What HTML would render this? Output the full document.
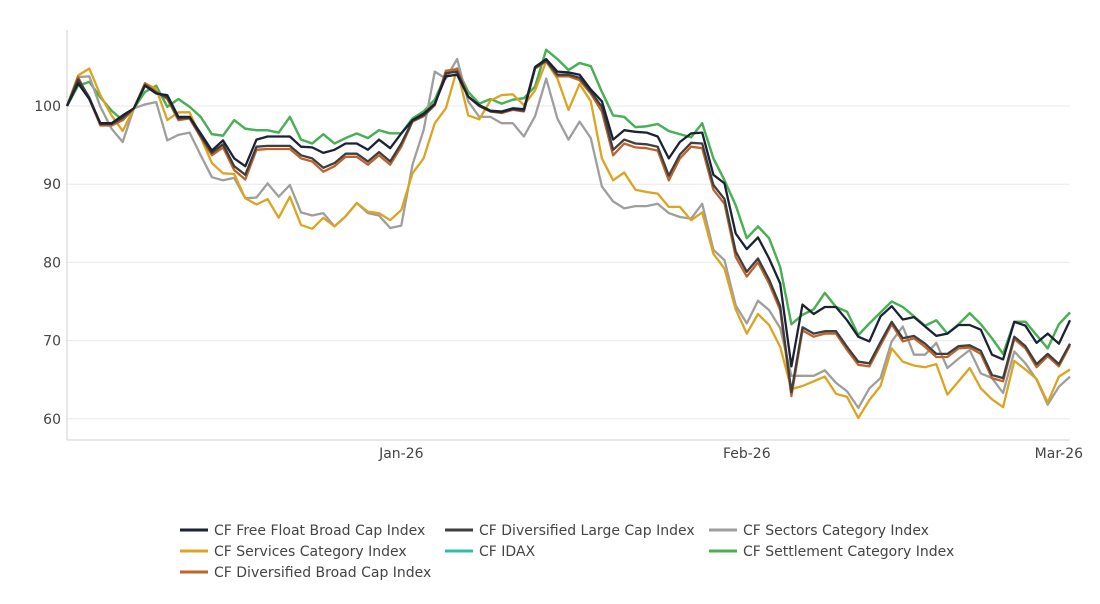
<!DOCTYPE html>
<html><head><meta charset="utf-8"><style>
body{margin:0;background:#fff;font-family:"DejaVu Sans",sans-serif;}
svg text{font-family:"DejaVu Sans",sans-serif;fill:#444;}
</style></head><body>
<svg id="chart" width="1100" height="600" xmlns="http://www.w3.org/2000/svg"></svg>
<script>
const xTickLabels = ["Jan-26","Feb-26","Mar-26"];
const xTickIdx = [30, 61, 89];
const yTicks = [60,70,80,90,100];
const seriesNames = ["CF Free Float Broad Cap Index","CF Diversified Large Cap Index","CF Sectors Category Index","CF Services Category Index","CF IDAX","CF Settlement Category Index","CF Diversified Broad Cap Index"];
const seriesColors = ["#1b2233","#3f3f3f","#9e9e9e","#dba421","#2cbfa8","#4caf50","#c0622a"];
const freeFloat = [100,102.9,100.9,97.8,97.8,98.8,99.7,102.6,101.6,101.4,98.6,98.6,96.5,94.3,95.6,93.3,92.3,95.7,96.1,96.1,96.1,94.8,94.7,94,94.4,95.2,95.2,94.4,95.7,94.6,96.5,98.2,99,100.3,103.8,104,101.2,100.1,99.4,99.3,99.7,99.6,105,106,104.4,104.3,104,102.1,100.6,95.7,96.9,96.7,96.6,96.1,93.3,95.4,96.5,96.6,91.2,90.1,83.7,81.7,83.2,80.5,77.3,66.7,74.6,73.4,74.3,74.3,72.6,70.5,69.9,73.1,74.4,72.7,73,71.8,70.6,70.9,72,72,71.4,68.2,67.6,72.4,71.9,69.7,70.9,69.6,72.6];
const divBroad = [100,103.7,100.9,97.5,97.5,98.2,99.7,102.9,101.8,100.9,98.2,98.4,96,93.7,94.7,91.8,90.6,94.4,94.5,94.5,94.5,93.3,92.9,91.6,92.3,93.5,93.5,92.5,93.7,92.5,94.8,98,98.7,100.1,104.5,104.7,101.2,100,99.3,99.1,99.5,99.3,104.8,105.7,103.8,103.8,103.3,101.6,99.3,93.7,95.2,94.7,94.6,94.3,90.5,93.3,94.8,94.6,89.3,87.5,80.7,78.2,80,77.3,73.9,62.9,71.3,70.5,70.9,70.9,68.8,66.9,66.7,69.4,72.1,69.9,70.3,69.2,67.9,67.9,69,69.1,68.3,65.2,64.8,70.2,69,66.6,68,66.7,69.4];
const divLarge = [100,103.4,101.1,97.7,97.7,98.5,99.7,102.7,101.7,101.1,98.4,98.5,96.2,94,95.1,92.3,91.2,94.8,94.9,94.9,94.9,93.7,93.3,92.1,92.7,93.9,93.9,92.9,94.1,92.9,95.2,98.1,98.8,100.2,104.2,104.4,101.2,100,99.3,99.2,99.6,99.4,104.9,105.8,104,104,103.6,101.8,99.9,94.4,95.7,95.2,95.1,94.8,91.1,93.8,95.3,95.2,89.9,88.1,81.4,78.8,80.5,77.8,74.4,63.4,71.7,70.9,71.2,71.2,69.2,67.3,67.1,69.8,72.4,70.3,70.6,69.6,68.3,68.3,69.3,69.4,68.7,65.6,65.2,70.5,69.3,67,68.3,67,69.6];
const sectors = [100,103.7,103.8,99.9,97.1,95.4,99.7,100.2,100.5,95.6,96.3,96.6,93.7,90.9,90.5,90.8,88.2,88.3,90.1,88.4,89.9,86.4,86,86.3,84.6,85.9,87.6,86.3,86,84.4,84.7,92.5,96.9,104.4,103.5,106,100.6,98.6,98.6,97.8,97.8,96.1,98.7,103.5,98.4,95.7,98,95.9,89.7,87.8,86.9,87.2,87.2,87.5,86.3,85.8,85.6,87.5,81.6,80.3,74.5,72.2,75.1,73.9,71.6,65.5,65.5,65.5,66.2,64.6,63.5,61.4,63.9,65.2,69.9,71.8,68.2,68.2,69.7,66.5,67.7,68.8,65.8,65.2,63.3,68.6,67.1,65,61.8,64.1,65.4];
const services = [100,103.9,104.8,101.4,98.8,96.8,99.7,102.9,102.2,98.2,99.2,99.2,96,92.7,91.4,91.3,88.2,87.4,88.1,85.7,88.4,84.8,84.3,85.7,84.6,85.9,87.6,86.5,86.3,85.4,86.7,91.4,93.3,97.8,99.7,104.7,98.8,98.3,100.7,101.4,101.5,100.1,102,105.7,103.5,99.5,102.8,100.6,93.3,90.5,91.5,89.3,89,88.8,87.1,87.1,85.4,86.4,81.1,79.2,74,70.9,73.4,72,69.2,63.8,64.2,64.8,65.4,63.2,62.8,60.1,62.4,64.2,69,67.3,66.8,66.6,67,63.1,64.8,66.5,63.9,62.5,61.5,67.4,66.3,65.1,62.1,65.4,66.3];
const settlement = [100,102.6,103.1,101.1,99.4,98.2,99.7,101.8,102.6,99.9,100.9,99.9,98.6,96.4,96.2,98.2,97.1,96.9,96.9,96.6,98.6,95.7,95.2,96.4,95.2,95.9,96.5,95.9,96.9,96.5,96.5,98.4,99.3,100.8,104,104.8,101.8,100.3,100.9,100.3,100.8,101,102.5,107.2,106,104.6,105.5,105.1,101.8,98.8,98.6,97.3,97.4,97.7,96.8,96.4,96,97.8,93.3,90.5,87.3,83.1,84.6,83.1,79.4,72.1,73.3,74,76.1,74.3,73.7,70.7,72.2,73.6,75,74.3,73.1,71.9,72.6,70.9,72.1,73.5,72.1,70.3,68.3,72.4,72.4,70.7,69,72.1,73.6];
const idax = settlement.map(v => v);
const allSeries = [freeFloat, divLarge, sectors, services, idax, settlement, divBroad];
const drawOrder = [4,5,2,3,6,1,0];

const NS = "http://www.w3.org/2000/svg";
const svg = document.getElementById('chart');
const X0 = 67, X1 = 1070, N = 91;
const xScale = i => X0 + i * (X1 - X0) / (N - 1);
const yScale = v => 106 + (100 - v) * 7.82;
function mk(tag, attrs){const e=document.createElementNS(NS,tag);for(const k in attrs)e.setAttribute(k,attrs[k]);svg.appendChild(e);return e;}

yTicks.forEach(t=>{
  const g = mk('line',{x1:X0,x2:X1,y1:yScale(t),y2:yScale(t),stroke:'#e8e8ee','stroke-width':1});
  
  
  const tx = mk('text',{x:X0-6,y:yScale(t)+5,'text-anchor':'end','font-size':14});
  tx.textContent = t;
  
  
});
const ax = mk('line',{x1:X0,x2:X0,y1:30,y2:440,stroke:'#cfcfd6','stroke-width':1});


const bx = mk('line',{x1:X0,x2:X1,y1:440,y2:440,stroke:'#cfcfd6','stroke-width':1});


xTickLabels.forEach((l,k)=>{
  const tx = mk('text',{x:Math.min(xScale(xTickIdx[k]),1060),y:458,'text-anchor':'middle','font-size':14});
  tx.textContent = l;
  
  
});
drawOrder.forEach(s=>{
  const d = allSeries[s].map((v,i)=>(i?'L':'M')+xScale(i).toFixed(1)+' '+yScale(v).toFixed(1)).join(' ');
  const p = mk('path',{d:d,fill:'none',stroke:seriesColors[s],'stroke-width':2.3,'stroke-linejoin':'round'});
  
  
});
const legX = [180,445,709], legY = [530,551,572];
seriesNames.forEach((n,s)=>{
  const lx = legX[s%3], ly = legY[Math.floor(s/3)];
  const l = mk('line',{x1:lx,x2:lx+28,y1:ly,y2:ly,stroke:seriesColors[s],'stroke-width':3});
  
  
  const t = mk('text',{x:lx+34,y:ly+5,'font-size':14});
  t.textContent = n;
  
  
});
</script>
</body></html>
